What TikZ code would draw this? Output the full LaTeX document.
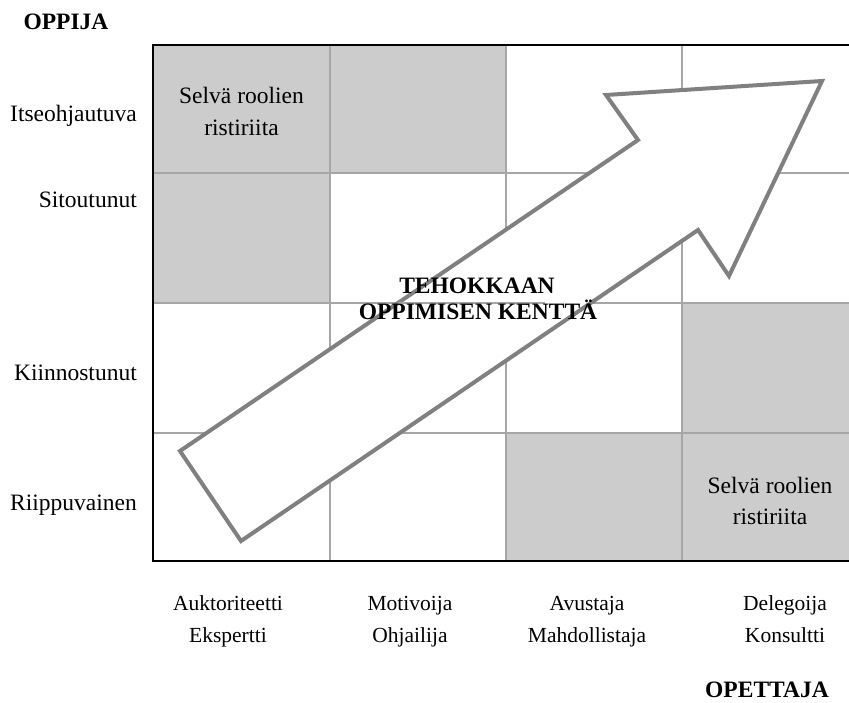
\documentclass[tikz,border=0pt]{standalone}
\usepackage{fontspec}
\setmainfont{Liberation Serif}
\definecolor{cellgray}{HTML}{CCCCCC}
\definecolor{gridgray}{HTML}{A6A6A6}
\definecolor{arrowgray}{HTML}{808080}
\begin{document}
\begin{tikzpicture}[x=1pt,y=-1pt,
  txt/.style={inner sep=0pt,anchor=base,font=\fontsize{23.5}{28}\selectfont},
  role/.style={txt,font=\fontsize{21.5}{26}\selectfont},
  lbl/.style={txt,anchor=base east},
  head/.style={txt,font=\fontsize{23.5}{28}\selectfont\bfseries},
  cell/.style={fill=cellgray,draw=none},
  gridline/.style={draw=gridgray,line width=1.3pt},
  border/.style={draw=black,line width=1.6pt},
  bigarrow/.style={draw=arrowgray,fill=white,line width=4pt,miter limit=10}]
\useasboundingbox (0,0) rectangle (849,703);
\clip (0,0) rectangle (849,703);

% shaded cells
\fill[cell] (153,45) rectangle (506,173);
\fill[cell] (153,173) rectangle (330,303);
\fill[cell] (682,303) rectangle (858,433);
\fill[cell] (506,433) rectangle (858,561);

% inner grid
\foreach \gx in {330,506,682} \draw[gridline] (\gx,45) -- (\gx,561);
\foreach \gy in {173,303,433} \draw[gridline] (153,\gy) -- (858,\gy);

% outer frame
\draw[border] (858,45) -- (153,45) -- (153,561) -- (858,561);

% arrow across the field
\coordinate (tailB) at (241,541);
\coordinate (tailT) at (180,451);
\coordinate (notchU) at (638,140);
\coordinate (barbU) at (606,95);
\coordinate (tip) at (822,81);
\coordinate (barbL) at (729,276);
\coordinate (notchL) at (698,230);
\draw[bigarrow] (tailB) -- (tailT) -- (notchU) -- (barbU) -- (tip) -- (barbL) -- (notchL) -- cycle;
\draw[gridline] (398,303) -- (545,303);

% axis titles
\node[head] (oppija) at (66,30) {OPPIJA};
\node[head,anchor=base east] (opettaja) at (829,697) {OPETTAJA};

% learner levels
\node[lbl] (l1) at (137,122) {Itseohjautuva};
\node[lbl] (l2) at (137,208) {Sitoutunut};
\node[lbl] (l3) at (137,381) {Kiinnostunut};
\node[lbl] (l4) at (137,510) {Riippuvainen};

% conflict cells
\node[txt] (c1a) at (241.5,104) {Selvä roolien};
\node[txt] (c1b) at (241.5,136) {ristiriita};
\node[txt] (c2a) at (770,493) {Selvä roolien};
\node[txt] (c2b) at (770,524) {ristiriita};

% field title
\node[head] (f1) at (477,294) {TEHOKKAAN};
\node[head] (f2) at (478,320) {OPPIMISEN KENTTÄ};

% teacher roles
\node[role] (t1a) at (228,610) {Auktoriteetti};
\node[role] (t1b) at (228,642) {Ekspertti};
\node[role] (t2a) at (410,610) {Motivoija};
\node[role] (t2b) at (410,642) {Ohjailija};
\node[role] (t3a) at (587,610) {Avustaja};
\node[role] (t3b) at (587,642) {Mahdollistaja};
\node[role] (t4a) at (785,610) {Delegoija};
\node[role] (t4b) at (785,642) {Konsultti};
\end{tikzpicture}
\end{document}
